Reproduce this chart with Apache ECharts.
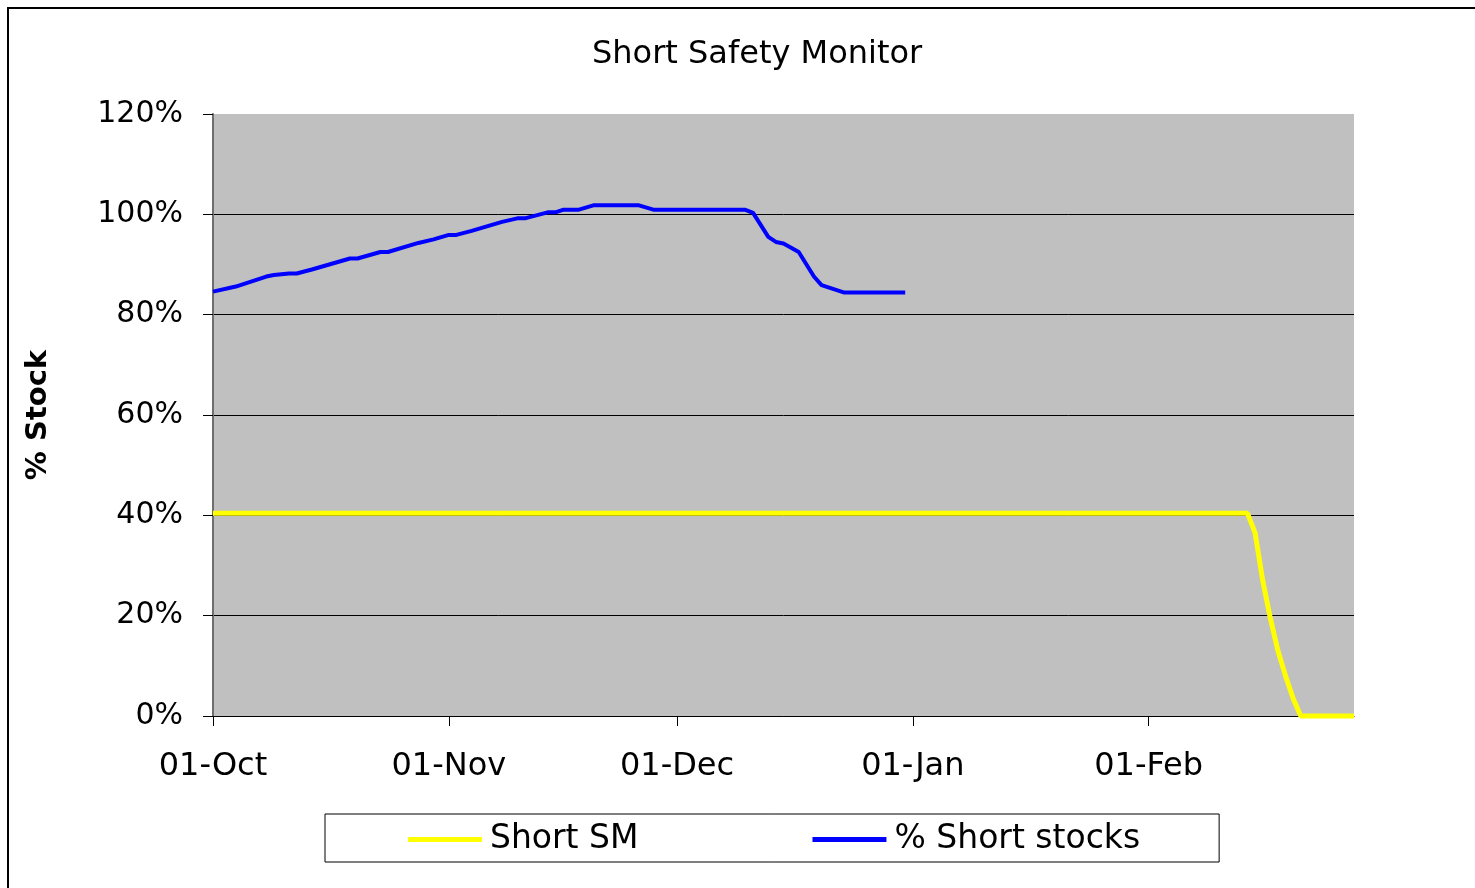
<!DOCTYPE html>
<html>
<head>
<meta charset="utf-8">
<title>Short Safety Monitor</title>
<script src="https://cdn.jsdelivr.net/npm/echarts@6/dist/echarts.min.js"></script>
<style>
  html, body { margin: 0; padding: 0; background: #fff; }
  #chart { width: 1475px; height: 888px; }
</style>
</head>
<body>
<div id="chart"></div>
<script>
// axis range: 01-Oct to 28-Feb, x is counted in days from startDate
const startDate = "2008-10-01";
const endDate = "2009-02-28";
const tickDates = ["2008-10-01", "2008-11-01", "2008-12-01", "2009-01-01", "2009-02-01"];
const tickLabels = ["01-Oct", "01-Nov", "01-Dec", "01-Jan", "01-Feb"];
const yTicks = [0, 20, 40, 60, 80, 100, 120];

// Short SM (yellow)
const shortSmDates = ["2008-10-01", "2009-02-14", "2009-02-15", "2009-02-16", "2009-02-17",
  "2009-02-18", "2009-02-19", "2009-02-20", "2009-02-21", "2009-02-28"];
const shortSmValues = [40.4, 40.4, 36.5, 27, 19.5, 13, 8, 3.5, 0, 0];

// % Short stocks (blue)
const shortStockDates = ["2008-10-01", "2008-10-04", "2008-10-08", "2008-10-09", "2008-10-11",
  "2008-10-12", "2008-10-14", "2008-10-19", "2008-10-20", "2008-10-23", "2008-10-24",
  "2008-10-28", "2008-10-30", "2008-11-01", "2008-11-02", "2008-11-04", "2008-11-08",
  "2008-11-10", "2008-11-11", "2008-11-14", "2008-11-15", "2008-11-16", "2008-11-18",
  "2008-11-20", "2008-11-26", "2008-11-28", "2008-12-10", "2008-12-11", "2008-12-13",
  "2008-12-14", "2008-12-15", "2008-12-17", "2008-12-19", "2008-12-20", "2008-12-23",
  "2008-12-31"];
const shortStockValues = [84.6, 85.6, 87.6, 87.9, 88.2,
  88.2, 89.0, 91.2, 91.2, 92.5, 92.5,
  94.3, 95.0, 95.9, 95.9, 96.7, 98.5,
  99.2, 99.2, 100.4, 100.4, 100.9, 100.9,
  101.8, 101.8, 100.9, 100.9, 100.3, 95.5,
  94.5, 94.2, 92.5, 87.6, 85.9, 84.4,
  84.4];

const dayOf = (s) => {
  const [y, m, d] = s.split("-").map(Number);
  const [y0, m0, d0] = startDate.split("-").map(Number);
  return Math.round((Date.UTC(y, m - 1, d) - Date.UTC(y0, m0 - 1, d0)) / 86400000);
};
const toPoints = (dates, vals) => dates.map((d, i) => [dayOf(d), vals[i]]);
const tickDays = tickDates.map(dayOf);

const FONT = "DejaVu Sans";
const chart = echarts.init(document.getElementById("chart"), null, { renderer: "canvas" });

const option = {
  backgroundColor: "#ffffff",
  animation: false,
  textStyle: { fontFamily: FONT, color: "#000" },
  title: {
    text: "Short Safety Monitor",
    left: 587,
    top: 34,
    textStyle: { fontFamily: FONT, fontSize: 32, fontWeight: "normal", color: "#000" },
  },
  graphic: [
    {
      type: "rect",
      z: -10,
      silent: true,
      shape: { x: 8, y: 8, width: 1490, height: 900 },
      style: { fill: "none", stroke: "#000", lineWidth: 2 },
    },
  ],
  legend: {
    left: 325,
    top: 814,
    orient: "horizontal",
    backgroundColor: "#fff",
    borderColor: "#000",
    borderWidth: 1,
    padding: [9, 79, 6, 83],
    itemGap: 174,
    itemWidth: 74,
    itemHeight: 5,
    icon: "rect",
    textStyle: { fontFamily: FONT, fontSize: 33, color: "#000", padding: [0, 0, 0, 3] },
    data: ["Short SM", "% Short stocks"],
  },
  grid: {
    left: 213,
    right: 121,
    top: 114,
    bottom: 172,
    show: true,
    backgroundColor: "#c0c0c0",
    borderWidth: 0,
  },
  xAxis: {
    type: "value",
    min: 0,
    max: dayOf(endDate),
    axisLine: { show: true, lineStyle: { color: "#000", width: 1 } },
    axisTick: {
      show: true,
      length: 10,
      inside: false,
      customValues: tickDays,
      lineStyle: { color: "#000", width: 1 },
    },
    axisLabel: {
      customValues: tickDays,
      margin: 35,
      fontFamily: FONT,
      fontSize: 32,
      color: "#000",
      formatter: (v) => {
        const i = tickDays.indexOf(v);
        return i >= 0 ? tickLabels[i] : "";
      },
    },
    splitLine: { show: false },
  },
  yAxis: {
    type: "value",
    min: yTicks[0],
    max: yTicks[yTicks.length - 1],
    interval: 20,
    name: "% Stock",
    nameLocation: "middle",
    nameGap: 160,
    nameRotate: 90,
    nameTextStyle: { fontFamily: FONT, fontSize: 29, fontWeight: "bold", color: "#000" },
    axisLine: { show: true, lineStyle: { color: "#6e6e6e", width: 2 } },
    axisTick: { show: true, length: 10, lineStyle: { color: "#000", width: 1 } },
    axisLabel: {
      margin: 30,
      fontFamily: FONT,
      fontSize: 30,
      color: "#000",
      padding: [6, 0, 0, 0],
      formatter: (v) => v + "%",
    },
    splitLine: {
      show: true,
      showMaxLine: false,
      lineStyle: { color: "#000", width: 1 },
    },
  },
  series: [
    {
      name: "Short SM",
      type: "line",
      data: toPoints(shortSmDates, shortSmValues),
      symbol: "none",
      clip: false,
      lineStyle: { color: "#ffff00", width: 5 },
      itemStyle: { color: "#ffff00" },
      z: 3,
    },
    {
      name: "% Short stocks",
      type: "line",
      data: toPoints(shortStockDates, shortStockValues),
      symbol: "none",
      clip: false,
      lineStyle: { color: "#0000ff", width: 4 },
      itemStyle: { color: "#0000ff" },
      z: 4,
    },
  ],
};

chart.setOption(option);
window.addEventListener("resize", () => chart.resize());
</script>
</body>
</html>
